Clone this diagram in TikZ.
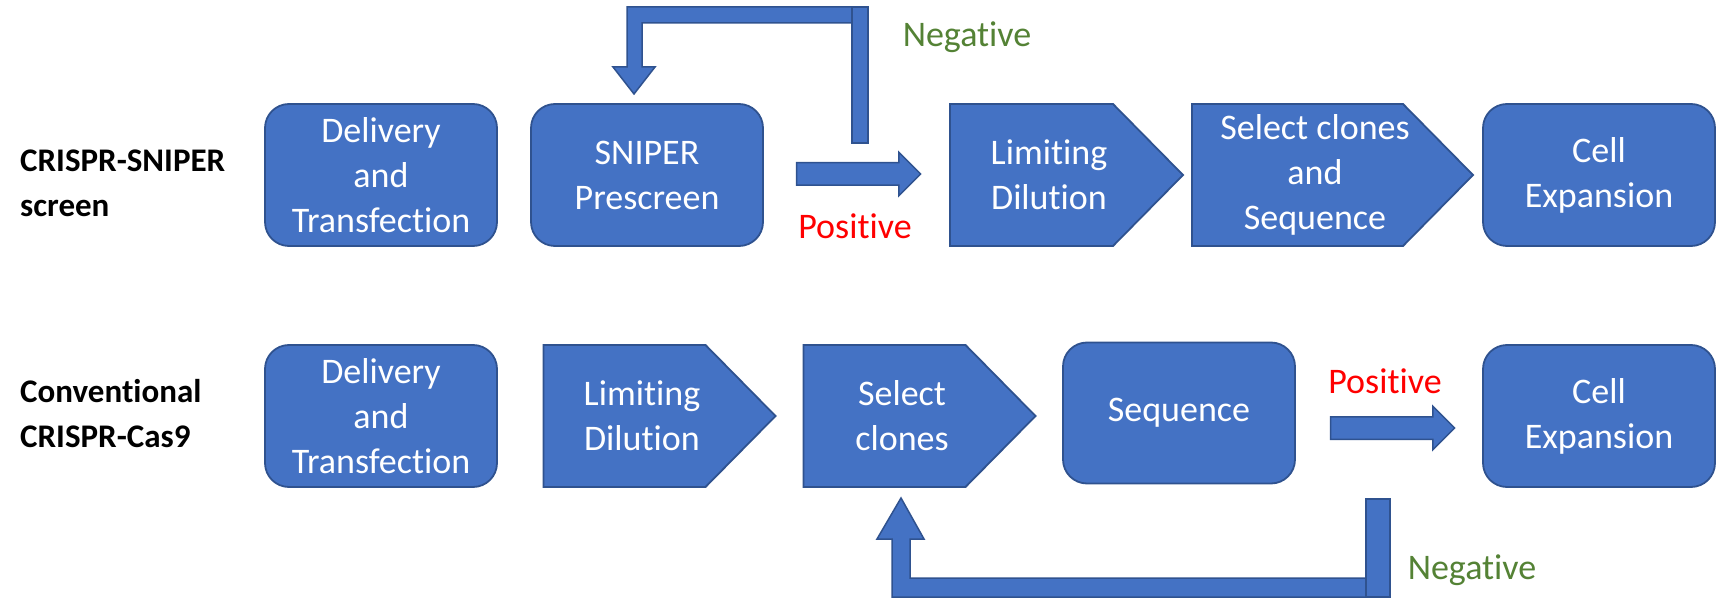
\documentclass[tikz,border=0pt]{standalone}
\usepackage{fontspec}
\setmainfont{Carlito}[Ligatures=CommonOff]
\usetikzlibrary{shapes.arrows,backgrounds}
\definecolor{boxblue}{HTML}{4472C4}
\definecolor{edgeblue}{HTML}{2F528F}
\definecolor{neggreen}{HTML}{548235}

\begin{document}
\begin{tikzpicture}[x=1pt,y=-1pt,
  every node/.style={font=\fontsize{36}{45}\selectfont},
  stage/.style={draw=edgeblue,line width=1.8,fill=boxblue,text=white,rounded corners=24,
    minimum width=232,minimum height=142,align=center,inner sep=0},
  plate/.style={text=white,minimum height=142,align=center,inner sep=0,outer sep=0},
  flow/.style={draw=edgeblue,line width=1.5,fill=boxblue},
  okarrow/.style={single arrow,flow,minimum height=124,text height=10.5,text depth=10.5,
    single arrow head extend=10.5,inner sep=0},
  rowlabel/.style={font=\fontsize{33}{45}\selectfont\bfseries,align=left,anchor=west,inner sep=0}
]
\useasboundingbox (0,0) rectangle (1716,612);
% row labels
\node[rowlabel] (snip) at (20,183) {CRISPR-SNIPER\\screen};
\node[rowlabel] (conv) at (20,414) {Conventional\\CRISPR-Cas9};
% upper row
\node[stage] (del1) at (381,175) {Delivery\\and\\Transfection};
\node[stage] (pre)  at (647,175) {SNIPER\\Prescreen};
\node[plate,minimum width=198] (lim1) at (1049,175) {Limiting\\Dilution};
\node[plate,minimum width=246] (sel1) at (1315,175) {Select clones\\and\\Sequence};
\node[stage] (exp1) at (1599,175) {Cell\\Expansion};
% lower row
\node[stage] (del2) at (381,416) {Delivery\\and\\Transfection};
\node[plate,minimum width=197] (lim2) at (642,416) {Limiting\\Dilution};
\node[plate,minimum width=197] (sel2) at (902,416) {Select\\clones};
\node[stage,minimum height=141] (seq) at (1179,413) {Sequence};
\node[stage] (exp2) at (1599,416) {Cell\\Expansion};
% pentagons
\begin{scope}[on background layer]
\foreach \n in {lim1,sel1,lim2,sel2}
  \draw[flow,line width=1.8] (\n.north west) -- ([xshift=-35]\n.north east) -- ([xshift=35]\n.east)
    -- ([xshift=-35]\n.south east) -- (\n.south west) -- cycle;
\end{scope}
% positive arrows
\node[okarrow] (pos1) at (853,174) {};
\node[okarrow] (pos2) at (1387,428) {};
\node[text=red] (poslab1) at (855,226) {Positive};
\node[text=red] (poslab2) at (1385,381) {Positive};
% negative loops
\draw[flow] (860,7) -- (627,7) -- (627,67) -- (613,67) -- (634,94) -- (655,67) -- (642,67)
  -- (642,23) -- (860,23) -- cycle;
\draw[flow] (852,7) rectangle (868,143);
\draw[flow] (901,498) -- (924,539) -- (910,539) -- (910,578) -- (1378,578) -- (1378,597)
  -- (892,597) -- (892,539) -- (877,539) -- cycle;
\draw[flow] (1366,499) rectangle (1390,597);
\node[text=neggreen] (neglab1) at (967,37) {Negative};
\node[text=neggreen] (neglab2) at (1472,570) {Negative};
\end{tikzpicture}
\end{document}
